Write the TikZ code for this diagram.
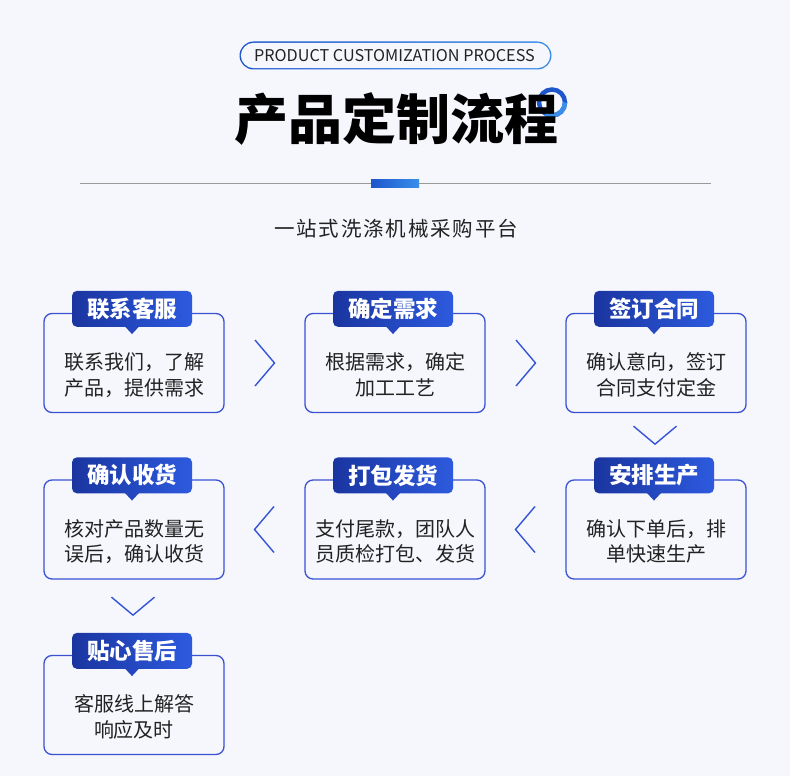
\documentclass[tikz,border=0pt]{standalone}
\usepackage{fontspec}
\setmainfont{Noto Sans CJK SC}
\usetikzlibrary{calc}
\definecolor{bg}{HTML}{F6F7FD}
\definecolor{boxc}{HTML}{3A52D2}
\definecolor{chevc}{HTML}{3654D6}
\definecolor{tagL}{HTML}{1A35A0}
\definecolor{tagR}{HTML}{2D5ADE}
\definecolor{tagM}{HTML}{2446BE}
\definecolor{txt}{HTML}{222222}
\definecolor{ringA}{HTML}{1E56CC}
\definecolor{ringB}{HTML}{3A8EEA}
\tikzset{
  boxst/.style={draw=boxc, line width=1.3pt, fill=bg, rounded corners=8pt, minimum width=180pt, minimum height=99pt, inner sep=0pt},
  tagst/.style={left color=tagL, right color=tagR, rounded corners=5pt, minimum width=120pt, minimum height=36pt, inner sep=0pt, text=white, font=\fontsize{22.5}{26}\selectfont\bfseries},
  bodyst/.style={align=center, text=txt, inner sep=0pt, font=\fontsize{20}{25.5}\selectfont},
  chev/.style={draw=chevc, line width=1.4pt, line join=miter}
}
\begin{document}
\begin{tikzpicture}[x=1pt,y=-1pt]
\useasboundingbox (0,0) rectangle (790,776);
\fill[bg] (0,0) rectangle (790,776);
% pill header
\shade[left color=ringA, right color=ringB, rounded corners=14pt] (239.5,41.5) rectangle (551.5,69.5);
\fill[bg, rounded corners=13pt] (240.8,42.8) rectangle (550.2,68.2);
\node[text=txt, font=\fontsize{16.2}{18}\selectfont, inner sep=0pt] (pill) at (394.5,56) {PRODUCT CUSTOMIZATION PROCESS};
% ring
\draw[ringA, line width=4.5pt] (552,102.5) circle (13pt);
\draw[ringB, line width=4.5pt] (565,102.5) arc (0:-120:13pt);
% title
\node[text=black, font=\fontsize{54}{60}\selectfont\bfseries, inner sep=0pt] (title) at (396.5,119) {产品定制流程};
% line and bar
\draw[color=black!40, line width=1pt] (80,183) -- (711,183);
\shade[left color=ringA, right color=ringB] (371,179) rectangle (419,187);
% subtitle
\node[text=txt, font=\fontsize{20.5}{22}\selectfont\addfontfeature{LetterSpace=9}, inner sep=0pt] (sub) at (396,228.5) {一站式洗涤机械采购平台};
% boxes
\node[boxst] (b1) at (134,363) {};
\node[boxst] (b2) at (395,363) {};
\node[boxst] (b3) at (656,363) {};
\node[boxst] (b4) at (656,529.5) {};
\node[boxst] (b5) at (395,529.5) {};
\node[boxst] (b6) at (134,529.5) {};
\node[boxst] (b7) at (134,705) {};
% tags
\foreach \b/\t in {b1/联系客服, b2/确定需求, b3/签订合同, b4/安排生产, b5/打包发货, b6/确认收货, b7/贴心售后}{
  \node[tagst] (t\b) at ($(\b.north)+(-2,-4)$) {\t};
  \fill[tagM] ($(t\b.south)+(-7,-0.5)$) -- ($(t\b.south)+(7,-0.5)$) -- ($(t\b.south)+(0,7)$) -- cycle;
}
% bodies
\node[bodyst] (x1) at ($(b1.center)+(0,12)$) {联系我们，了解\\产品，提供需求};
\node[bodyst] (x2) at ($(b2.center)+(0,12)$) {根据需求，确定\\加工工艺};
\node[bodyst] (x3) at ($(b3.center)+(0,12)$) {确认意向，签订\\合同支付定金};
\node[bodyst] (x4) at ($(b4.center)+(0,12)$) {确认下单后，排\\单快速生产};
\node[bodyst] (x5) at ($(b5.center)+(0,12)$) {支付尾款，团队人\\员质检打包、发货};
\node[bodyst] (x6) at ($(b6.center)+(0,12)$) {核对产品数量无\\误后，确认收货};
\node[bodyst] (x7) at ($(b7.center)+(0,12)$) {客服线上解答\\响应及时};
% chevrons
\coordinate (m12) at ($(b1.east)!0.5!(b2.west)$);
\coordinate (m23) at ($(b2.east)!0.5!(b3.west)$);
\coordinate (m54) at ($(b5.east)!0.5!(b4.west)$);
\coordinate (m65) at ($(b6.east)!0.5!(b5.west)$);
\coordinate (m34) at ($(b3.south)!0.5!(tb4.north)$);
\coordinate (m67) at ($(b6.south)!0.5!(tb7.north)$);
\draw[chev] ($(m12)+(-9.5,-23)$) -- ($(m12)+(10,0)$) -- ($(m12)+(-9.5,23)$);
\draw[chev] ($(m23)+(-9.5,-23)$) -- ($(m23)+(10,0)$) -- ($(m23)+(-9.5,23)$);
\draw[chev] ($(m54)+(9.5,-23)$) -- ($(m54)+(-10,0)$) -- ($(m54)+(9.5,23)$);
\draw[chev] ($(m65)+(9.5,-23)$) -- ($(m65)+(-10,0)$) -- ($(m65)+(9.5,23)$);
\draw[chev] ($(m34)+(-21.5,-9)$) -- ($(m34)+(0,9)$) -- ($(m34)+(21.5,-9)$);
\draw[chev] ($(m67)+(-21.5,-9)$) -- ($(m67)+(0,9)$) -- ($(m67)+(21.5,-9)$);
\end{tikzpicture}
\end{document}
